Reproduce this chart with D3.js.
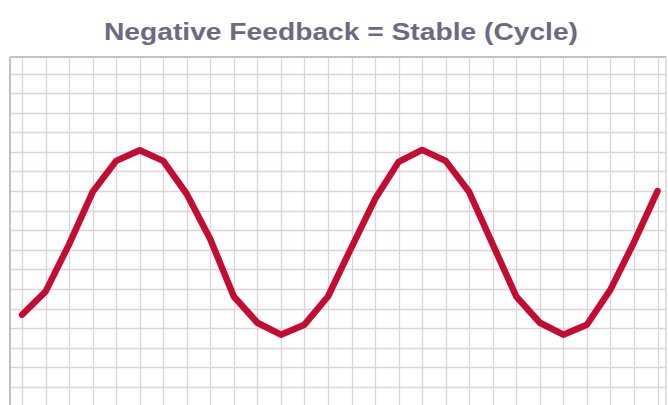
<!DOCTYPE html>
<html>
<head>
<meta charset="utf-8">
<script src="https://cdn.jsdelivr.net/npm/d3@7"></script>
<style>
  html, body { margin: 0; padding: 0; background: #fff; }
  svg { display: block; }
</style>
</head>
<body>
<div id="chart"></div>
<script>
// Chart title
const title = 'Negative Feedback = Stable (Cycle)'

// Sample index along the x axis (one per grid column)
const steps = d3.range(28)

// Level of the cycle at each step, in grid rows
const levels = [
  4.69, 5.87, 8.28, 10.95, 12.54, 13.08, 12.54, 10.85, 8.54, 5.62,
  4.28, 3.67, 4.18, 5.62, 8.13, 10.59, 12.49, 13.10, 12.54, 10.95,
  8.28, 5.62, 4.28, 3.67, 4.18, 5.97, 8.38, 11.0
]

// Grid rows and columns of the graph paper
const rowTicks = d3.range(1, 18)
const colTicks = d3.range(0, 28)

const width = 668
const height = 405

const svg = d3.select('#chart')
  .append('svg')
  .attr('width', width)
  .attr('height', height)

// Scales
const x = d3.scaleLinear().domain([0, 27]).range([22, 657.5])
const y = d3.scaleLinear().domain([1, 17]).range([387, 73.5])

const frame = { left: 10, top: 57, right: 666, bottom: height }

// Grid (graph paper)
const grid = svg.append('g').attr('class', 'grid')

grid.selectAll('line.h')
  .data(rowTicks)
  .join('line')
  .attr('class', 'h')
  .attr('x1', frame.left)
  .attr('x2', frame.right)
  .attr('y1', d => Math.round(y(d)) + 0.5)
  .attr('y2', d => Math.round(y(d)) + 0.5)
  .attr('stroke', '#dcd4d8')
  .attr('stroke-width', 1.3)

grid.selectAll('line.v')
  .data(colTicks)
  .join('line')
  .attr('class', 'v')
  .attr('y1', frame.top)
  .attr('y2', frame.bottom)
  .attr('x1', d => Math.round(x(d)) + 0.5)
  .attr('x2', d => Math.round(x(d)) + 0.5)
  .attr('stroke', '#d6d6d6')
  .attr('stroke-width', 1.3)

// Frame: top, left and right edges
svg.append('line')
  .attr('x1', frame.left).attr('x2', frame.right)
  .attr('y1', frame.top).attr('y2', frame.top)
  .attr('stroke', '#c2c2c2')
  .attr('stroke-width', 2)

svg.append('line')
  .attr('x1', frame.left).attr('x2', frame.left)
  .attr('y1', frame.top).attr('y2', frame.bottom)
  .attr('stroke', '#c2c2c2')
  .attr('stroke-width', 2)

svg.append('line')
  .attr('x1', frame.right).attr('x2', frame.right)
  .attr('y1', frame.top).attr('y2', frame.bottom)
  .attr('stroke', '#d6d6d6')
  .attr('stroke-width', 1.5)

// Cycle line
const line = d3.line()
  .x((d, i) => x(steps[i]))
  .y(d => y(d))

svg.append('path')
  .datum(levels)
  .attr('d', line)
  .attr('fill', 'none')
  .attr('stroke', '#c40c32')
  .attr('stroke-width', 6.5)
  .attr('stroke-linejoin', 'round')
  .attr('stroke-linecap', 'round')

// Title
svg.append('text')
  .attr('x', 341)
  .attr('y', 40)
  .attr('text-anchor', 'middle')
  .attr('font-family', 'Liberation Sans, Arial, sans-serif')
  .attr('font-weight', 'bold')
  .attr('font-size', 24)
  .attr('fill', '#6c6a7e')
  .attr('textLength', 474)
  .attr('lengthAdjust', 'spacingAndGlyphs')
  .text(title)
</script>
</body>
</html>
